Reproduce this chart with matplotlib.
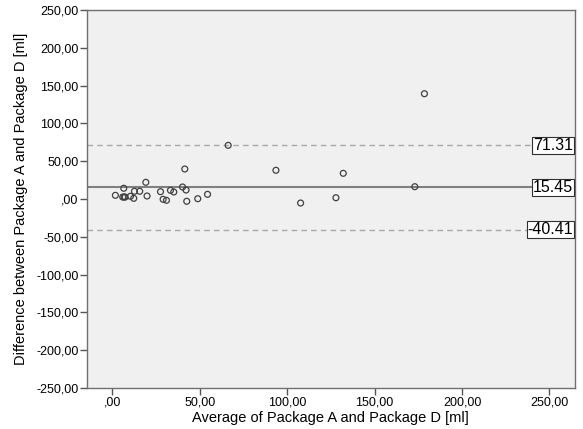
import matplotlib
matplotlib.use("Agg")
import matplotlib.pyplot as plt
from matplotlib.ticker import FuncFormatter, MultipleLocator

plt.rcParams['font.family'] = ['Liberation Sans', 'DejaVu Sans']

avg = [1.8, 6.6, 6.0, 6.8, 7.4, 10.4, 12.3, 12.7, 15.7, 19.2, 19.9, 27.6, 29.1,
       31.0, 33.3, 35.2, 40.2, 41.5, 42.2, 42.6, 48.9, 54.5, 66.3, 93.6, 107.7,
       127.9, 132.1, 173.0, 178.5]
diff = [4.9, 14.2, 2.6, 2.6, 2.6, 3.6, 0.9, 10.2, 10.2, 22.1, 4.0, 9.7, -0.4,
        -1.7, 11.5, 9.3, 15.9, 39.7, 11.9, -3.0, 0.4, 6.2, 71.0, 38.0, -5.3,
        1.7, 34.0, 16.3, 139.3]
mean_diff = 15.45
upper_loa = 71.31
lower_loa = -40.41

fig = plt.figure(figsize=(5.83, 4.29), dpi=100)
ax = fig.add_axes([0.149, 0.0956, 0.837, 0.881])
ax.set_facecolor('#f0f0f0')

ax.axhline(upper_loa, color='#a8a8a8', lw=1.0, ls=(0, (4, 3)), zorder=1)
ax.axhline(lower_loa, color='#a8a8a8', lw=1.0, ls=(0, (4, 3)), zorder=1)
ax.axhline(mean_diff, color='#808080', lw=1.5, zorder=1)

ax.scatter(avg, diff, s=18, facecolors='none', edgecolors='#404040',
           linewidths=0.9, zorder=3)

ax.set_xlim(-14.5, 264.5)
ax.set_ylim(-250, 250)
ax.xaxis.set_major_locator(MultipleLocator(50))
ax.yaxis.set_major_locator(MultipleLocator(50))

def fmt(v, pos):
    s = f"{v:.2f}".replace('.', ',')
    if abs(v) < 1e-9:
        s = ",00"
    return s

ax.xaxis.set_major_formatter(FuncFormatter(fmt))
ax.yaxis.set_major_formatter(FuncFormatter(fmt))
ax.tick_params(direction='out', length=5, width=1, color='#555555',
               labelsize=9, labelcolor='black', pad=1)
ax.tick_params(top=False, right=False)
for sp in ax.spines.values():
    sp.set_color('#707070')
    sp.set_linewidth(1.0)

ax.set_xlabel('Average of Package A and Package D [ml]', fontsize=10.5, labelpad=2)
ax.set_ylabel('Difference between Package A and Package D [ml]', fontsize=10.5, labelpad=6)

for val in (upper_loa, mean_diff, lower_loa):
    ax.text(0.997, val, f"{val:.2f}", transform=ax.get_yaxis_transform(),
            ha='right', va='center', fontsize=11.5, zorder=5,
            bbox=dict(boxstyle='square,pad=0.06', fc='white', ec='#303030', lw=0.8))

fig.savefig('out.png', dpi=100, facecolor='white')
